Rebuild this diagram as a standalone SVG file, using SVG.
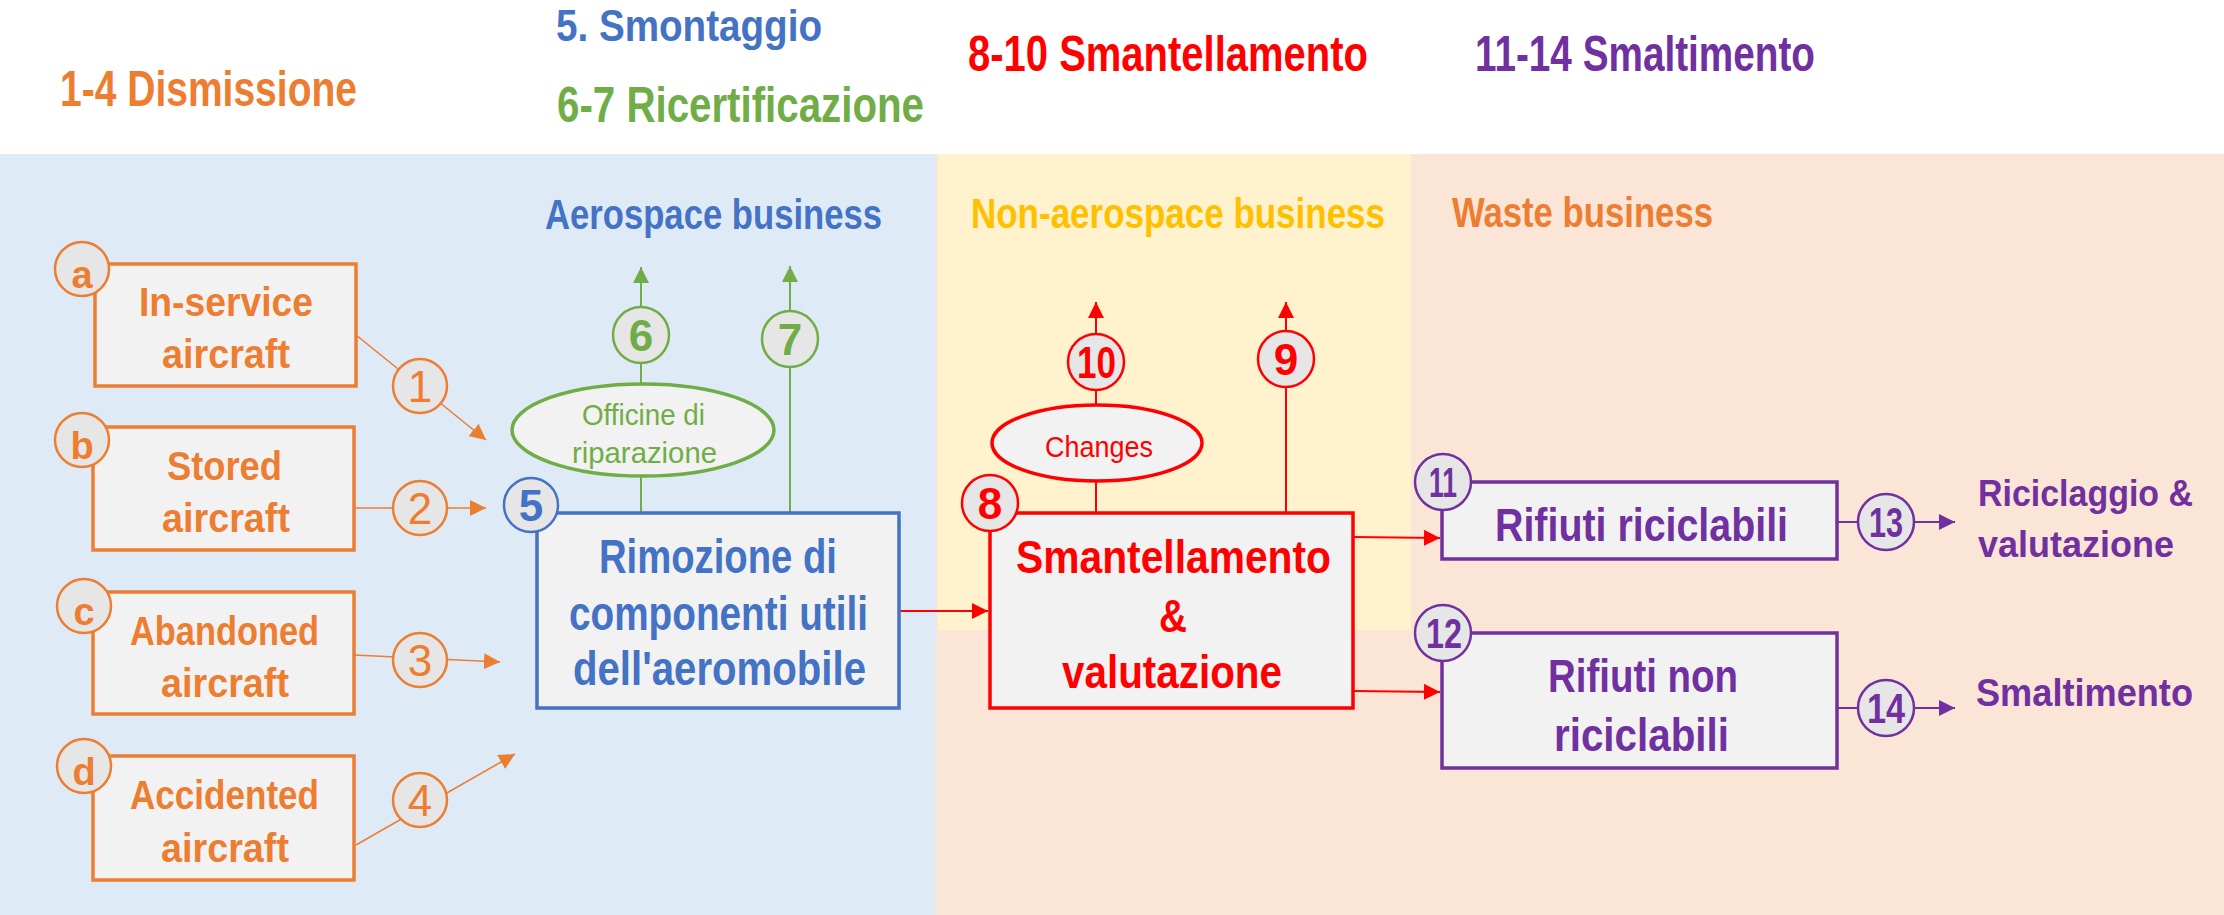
<svg xmlns="http://www.w3.org/2000/svg" width="2224" height="915" viewBox="0 0 2224 915">
<style>
text{font-family:"Liberation Sans",Arial,sans-serif}
.b{font-weight:bold}
.n{font-weight:normal}
.or{fill:#ED7D31}.bl{fill:#4472C4}.gr{fill:#70AD47}.rd{fill:#FF0000}.pu{fill:#7030A0}.ye{fill:#FFC000}
.box{fill:#F2F2F2;stroke-width:3.5}
.cir{fill:#E7E6E6;stroke-width:2.5}
.ell{fill:#F2F2F2;stroke-width:3.5}
.so{stroke:#ED7D31}.sb{stroke:#4472C4}.sg{stroke:#70AD47}.sr{stroke:#FF0000}.sp{stroke:#7030A0}
.h{font-size:50px;font-weight:bold}
.reg{font-size:43px;font-weight:bold}
.num{font-size:44px;text-anchor:middle}
.let{font-size:38px;font-weight:bold;text-anchor:middle}
</style>
<defs>
<marker id="ao" viewBox="0 0 16 16" markerUnits="userSpaceOnUse" markerWidth="16" markerHeight="16" refX="16" refY="8" orient="auto"><path d="M0,0 L16,8 L0,16 Z" fill="#ED7D31"/></marker>
<marker id="ag" viewBox="0 0 16 16" markerUnits="userSpaceOnUse" markerWidth="16" markerHeight="16" refX="16" refY="8" orient="auto"><path d="M0,0 L16,8 L0,16 Z" fill="#70AD47"/></marker>
<marker id="ar" viewBox="0 0 16 16" markerUnits="userSpaceOnUse" markerWidth="16" markerHeight="16" refX="16" refY="8" orient="auto"><path d="M0,0 L16,8 L0,16 Z" fill="#FF0000"/></marker>
<marker id="ap" viewBox="0 0 16 16" markerUnits="userSpaceOnUse" markerWidth="16" markerHeight="16" refX="16" refY="8" orient="auto"><path d="M0,0 L16,8 L0,16 Z" fill="#7030A0"/></marker>
</defs>
<rect x="0" y="0" width="2224" height="915" fill="#FFFFFF"/>
<g id="regions">
<rect x="0" y="154" width="936" height="761" fill="#DEEBF7"/>
<rect x="936" y="154" width="1288" height="761" fill="#FBE5D6"/>
<rect x="938" y="154" width="473" height="476" fill="#FFF2CC"/>
</g>
<g id="headers">
<text class="h or" x="60" y="106" textLength="297" lengthAdjust="spacingAndGlyphs">1-4 Dismissione</text>
<text class="bl" font-weight="bold" font-size="45" x="556" y="41" textLength="266" lengthAdjust="spacingAndGlyphs">5. Smontaggio</text>
<text class="h gr" x="557" y="122" textLength="367" lengthAdjust="spacingAndGlyphs">6-7 Ricertificazione</text>
<text class="h rd" x="968" y="71" textLength="400" lengthAdjust="spacingAndGlyphs">8-10 Smantellamento</text>
<text class="h pu" x="1475" y="71" textLength="340" lengthAdjust="spacingAndGlyphs">11-14 Smaltimento</text>
<text class="reg bl" x="545" y="229" textLength="337" lengthAdjust="spacingAndGlyphs">Aerospace business</text>
<text class="reg ye" x="971" y="228" textLength="414" lengthAdjust="spacingAndGlyphs">Non-aerospace business</text>
<text class="reg or" x="1452" y="227" textLength="261" lengthAdjust="spacingAndGlyphs">Waste business</text>
</g>
<g id="connectors" fill="none">
<path class="so" stroke-width="1.6" d="M356,335 L486,440" marker-end="url(#ao)"/>
<path class="so" stroke-width="1.6" d="M354,508 L486,508" marker-end="url(#ao)"/>
<path class="so" stroke-width="1.6" d="M354,655 L500,662" marker-end="url(#ao)"/>
<path class="so" stroke-width="1.6" d="M356,845 L515,754" marker-end="url(#ao)"/>
<path class="sg" stroke-width="2" d="M641,513 V267" marker-end="url(#ag)"/>
<path class="sg" stroke-width="2" d="M790,513 V266" marker-end="url(#ag)"/>
<path class="sr" stroke-width="2" d="M1096,513 V302" marker-end="url(#ar)"/>
<path class="sr" stroke-width="2" d="M1286,513 V302" marker-end="url(#ar)"/>
<path class="sr" stroke-width="2" d="M899,611 H988" marker-end="url(#ar)"/>
<path class="sr" stroke-width="2" d="M1353,537 L1440,538" marker-end="url(#ar)"/>
<path class="sr" stroke-width="2" d="M1353,691 L1440,692" marker-end="url(#ar)"/>
<path class="sp" stroke-width="2" d="M1837,522 H1955" marker-end="url(#ap)"/>
<path class="sp" stroke-width="2" d="M1837,708 H1955" marker-end="url(#ap)"/>
</g>
<g id="node-a">
<rect class="box so" x="95" y="264" width="261" height="122"/>
<circle class="cir so" cx="82" cy="269" r="27"/>
<text class="let or" x="82" y="288">a</text>
<text class="b or" font-size="40" x="139" y="316" textLength="174" lengthAdjust="spacingAndGlyphs">In-service</text>
<text class="b or" font-size="40" x="162" y="368" textLength="128" lengthAdjust="spacingAndGlyphs">aircraft</text>
</g>
<g id="node-b">
<rect class="box so" x="93" y="427" width="261" height="123"/>
<circle class="cir so" cx="82" cy="440" r="27"/>
<text class="let or" x="82" y="459">b</text>
<text class="b or" font-size="40" x="167" y="480" textLength="115" lengthAdjust="spacingAndGlyphs">Stored</text>
<text class="b or" font-size="40" x="162" y="532" textLength="128" lengthAdjust="spacingAndGlyphs">aircraft</text>
</g>
<g id="node-c">
<rect class="box so" x="93" y="592" width="261" height="122"/>
<circle class="cir so" cx="84" cy="606" r="27"/>
<text class="let or" x="84" y="625">c</text>
<text class="b or" font-size="40" x="130" y="645" textLength="189" lengthAdjust="spacingAndGlyphs">Abandoned</text>
<text class="b or" font-size="40" x="161" y="697" textLength="128" lengthAdjust="spacingAndGlyphs">aircraft</text>
</g>
<g id="node-d">
<rect class="box so" x="93" y="756" width="261" height="124"/>
<circle class="cir so" cx="84" cy="766" r="27"/>
<text class="let or" x="84" y="785">d</text>
<text class="b or" font-size="40" x="130" y="809" textLength="189" lengthAdjust="spacingAndGlyphs">Accidented</text>
<text class="b or" font-size="40" x="161" y="862" textLength="128" lengthAdjust="spacingAndGlyphs">aircraft</text>
</g>
<g id="step-1"><circle class="cir so" cx="420" cy="386" r="27"/><text class="num n or" x="420" y="402">1</text></g>
<g id="step-2"><circle class="cir so" cx="420" cy="508" r="27"/><text class="num n or" x="420" y="524">2</text></g>
<g id="step-3"><circle class="cir so" cx="420" cy="660" r="27"/><text class="num n or" x="420" y="676">3</text></g>
<g id="step-4"><circle class="cir so" cx="420" cy="800" r="27"/><text class="num n or" x="420" y="816">4</text></g>
<g id="node-5">
<rect class="box sb" x="537" y="513" width="362" height="195"/>
<circle class="cir sb" cx="531" cy="505" r="27"/>
<text class="num b bl" x="531" y="521">5</text>
<text class="b bl" font-size="48" x="599" y="573" textLength="238" lengthAdjust="spacingAndGlyphs">Rimozione di</text>
<text class="b bl" font-size="48" x="569" y="630" textLength="299" lengthAdjust="spacingAndGlyphs">componenti utili</text>
<text class="b bl" font-size="48" x="573" y="685" textLength="293" lengthAdjust="spacingAndGlyphs">dell'aeromobile</text>
</g>
<g id="officine">
<ellipse class="ell sg" cx="643" cy="430" rx="131" ry="46"/>
<text class="n gr" font-size="30" x="582" y="425" textLength="123" lengthAdjust="spacingAndGlyphs">Officine di</text>
<text class="n gr" font-size="30" x="572" y="463" textLength="145" lengthAdjust="spacingAndGlyphs">riparazione</text>
</g>
<g id="step-6"><circle class="cir sg" cx="641" cy="335" r="28"/><text class="num b gr" x="641" y="351">6</text></g>
<g id="step-7"><circle class="cir sg" cx="790" cy="339" r="28"/><text class="num b gr" x="790" y="355">7</text></g>
<g id="node-8">
<rect class="box sr" x="990" y="513" width="363" height="195" stroke-width="4.5"/>
<circle class="cir sr" cx="990" cy="503" r="28"/>
<text class="num b rd" x="990" y="519">8</text>
<text class="b rd" font-size="46" x="1016" y="573" textLength="315" lengthAdjust="spacingAndGlyphs">Smantellamento</text>
<text class="b rd" font-size="46" x="1159" y="632" textLength="28" lengthAdjust="spacingAndGlyphs">&amp;</text>
<text class="b rd" font-size="46" x="1062" y="688" textLength="220" lengthAdjust="spacingAndGlyphs">valutazione</text>
</g>
<g id="changes">
<ellipse class="ell sr" cx="1097" cy="443" rx="105" ry="38"/>
<text class="n rd" font-size="30" x="1045" y="457" textLength="108" lengthAdjust="spacingAndGlyphs">Changes</text>
</g>
<g id="step-9"><circle class="cir sr" cx="1286" cy="359" r="28"/><text class="num b rd" x="1286" y="375">9</text></g>
<g id="step-10"><circle class="cir sr" cx="1096" cy="362" r="28"/><text class="b rd" font-size="44" x="1077" y="378" textLength="39" lengthAdjust="spacingAndGlyphs">10</text></g>
<g id="node-11">
<rect class="box sp" x="1442" y="482" width="395" height="77" stroke-width="3"/>
<circle class="cir sp" cx="1443" cy="482" r="28"/>
<text class="b pu" font-size="42" x="1429" y="497" textLength="28" lengthAdjust="spacingAndGlyphs">11</text>
<text class="b pu" font-size="47" x="1495" y="541" textLength="293" lengthAdjust="spacingAndGlyphs">Rifiuti riciclabili</text>
</g>
<g id="node-12">
<rect class="box sp" x="1442" y="633" width="395" height="135" stroke-width="3"/>
<circle class="cir sp" cx="1443" cy="633" r="28"/>
<text class="b pu" font-size="42" x="1426" y="648" textLength="36" lengthAdjust="spacingAndGlyphs">12</text>
<text class="b pu" font-size="47" x="1548" y="692" textLength="190" lengthAdjust="spacingAndGlyphs">Rifiuti non</text>
<text class="b pu" font-size="47" x="1554" y="751" textLength="175" lengthAdjust="spacingAndGlyphs">riciclabili</text>
</g>
<g id="step-13"><circle class="cir sp" cx="1886" cy="522" r="28"/><text class="b pu" font-size="42" x="1869" y="537" textLength="34" lengthAdjust="spacingAndGlyphs">13</text></g>
<g id="step-14"><circle class="cir sp" cx="1886" cy="708" r="28"/><text class="b pu" font-size="42" x="1867" y="723" textLength="38" lengthAdjust="spacingAndGlyphs">14</text></g>
<g id="out-13">
<text class="b pu" font-size="37" x="1978" y="506" textLength="215" lengthAdjust="spacingAndGlyphs">Riciclaggio &amp;</text>
<text class="b pu" font-size="37" x="1978" y="557" textLength="196" lengthAdjust="spacingAndGlyphs">valutazione</text>
</g>
<g id="out-14">
<text class="b pu" font-size="39" x="1976" y="706" textLength="217" lengthAdjust="spacingAndGlyphs">Smaltimento</text>
</g>
</svg>
